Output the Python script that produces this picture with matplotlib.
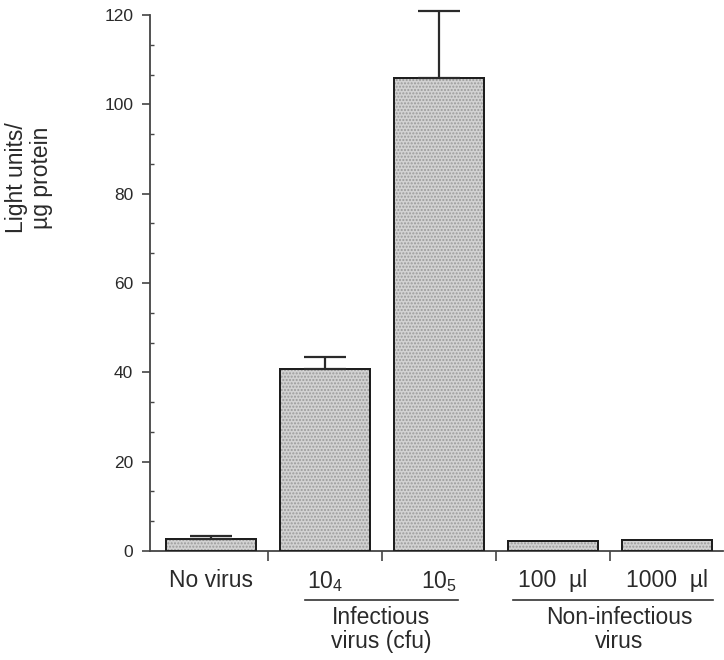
import numpy as np
import matplotlib
matplotlib.use('Agg')
import matplotlib.pyplot as plt
from matplotlib.ticker import MultipleLocator, FixedLocator
import matplotlib.transforms as mtransforms

plt.rcParams['font.family'] = ['Liberation Sans', 'DejaVu Sans']
plt.rcParams['mathtext.fontset'] = 'custom'
plt.rcParams['mathtext.rm'] = 'Liberation Sans'
plt.rcParams['mathtext.default'] = 'rm'

# values
labels = ['No virus', '10$_4$', '10$_5$', '100  \u00b5l', '1000  \u00b5l']
values = [2.7, 40.7, 105.8, 2.2, 2.5]
errors = [0.7, 2.7, 15.2, 0.0, 0.0]
groups = ['Infectious\nvirus (cfu)', 'Non-infectious\nvirus']
group_spans = [(0.82, 2.17), (2.65, 4.40)]
group_centers = [1.49, 3.58]

txt = '#2a2a2a'
fig = plt.figure(figsize=(7.24, 6.6), dpi=100)
ax = fig.add_axes([150 / 724, 1 - 551 / 660, 573 / 724, 536 / 660])

x = np.arange(len(values))
ax.bar(x, values, width=0.79, color='#d2d2d2', edgecolor='#1e1e1e', linewidth=1.4, zorder=2)
ax.bar(x, values, width=0.79, color='none', edgecolor='#9a9a9a', hatch='.....', linewidth=0, zorder=3)
ax.bar(x, values, width=0.79, color='none', edgecolor='#1e1e1e', linewidth=1.4, zorder=4)

err = np.array(errors)
m = err > 0
ax.errorbar(x[m], np.array(values)[m], yerr=[np.zeros(m.sum()), err[m]], fmt='none',
            ecolor='#2a2a2a', elinewidth=1.6, capsize=15, capthick=1.6, clip_on=False, zorder=5)

ax.set_xlim(-0.535, 4.49)
ax.set_ylim(0, 120)
for s in ['top', 'right']:
    ax.spines[s].set_visible(False)
for s in ['left', 'bottom']:
    ax.spines[s].set_linewidth(1.3)
    ax.spines[s].set_color('#444444')

ax.yaxis.set_major_locator(MultipleLocator(20))
ax.yaxis.set_minor_locator(MultipleLocator(20 / 3))
ax.tick_params(axis='y', which='major', length=6, width=1.2, color='#444444',
               labelsize=12.5, labelcolor=txt, pad=6)
ax.tick_params(axis='y', which='minor', length=3, width=1.0, direction='in', color='#444444')

ax.set_xticks(x)
ax.set_xticklabels(labels)
ax.xaxis.set_minor_locator(FixedLocator([0.5, 1.5, 2.5, 3.5]))
ax.tick_params(axis='x', which='major', length=0, labelsize=16.5, labelcolor=txt, pad=13)
ax.tick_params(axis='x', which='minor', length=7, width=1.2, color='#444444')

trans = mtransforms.blended_transform_factory(ax.transData, ax.transAxes)
for name, (a, b), c in zip(groups, group_spans, group_centers):
    ax.plot([a, b], [-0.0914, -0.0914], transform=trans, color='#333333', lw=1.2, clip_on=False)
    ax.text(c, -0.102, name, transform=trans, ha='center', va='top', fontsize=16.5,
            color=txt, linespacing=1.05)

fig.text(29 / 724, 1 - 178 / 660, 'Light units/\n\u00b5g protein', rotation=90,
         ha='center', va='center', fontsize=16.5, color=txt, linespacing=1.1)

fig.savefig('out.png', dpi=100)
